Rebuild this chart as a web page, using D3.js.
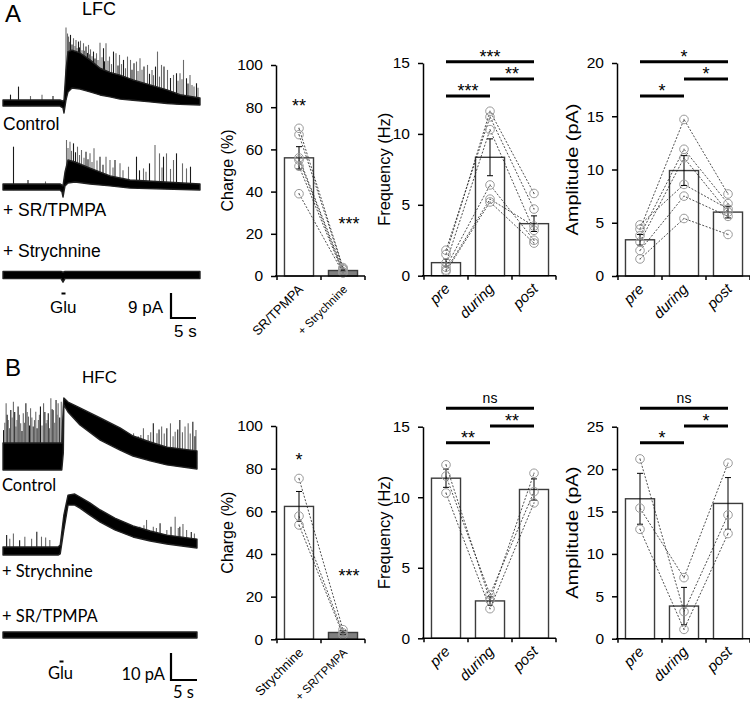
<!DOCTYPE html>
<html><head><meta charset="utf-8">
<script src="https://cdn.jsdelivr.net/npm/d3@7"></script>
<style>
body{margin:0;background:#fff}
svg{display:block}
text{font-family:"Liberation Sans",Arial,sans-serif;fill:#000}
</style>
</head><body>
<svg id="c" width="750" height="709"></svg>
<script>
// ================= DATA =================
// --- Panel A traces (time in s, current in pA relative to baseline) ---
const a1EnvT  = [0, 11.4, 12.0, 12.2, 12.6, 13.0, 13.8, 15.4, 17.4, 19.4, 21.4, 23.4, 26.0, 29.4, 32.8, 35.4, 39.4];
const a1EnvLo = [-1.1, -1.1, -1.8, -3.6, 1.1, 4.0, 5.4, 5.0, 4.0, 2.9, 2.2, 1.4, 1.0, 0.4, -0.2, -0.5, -0.7];
const a1EnvHi = [1.1, 1.1, 0.7, 1.1, 11.9, 18.5, 19.0, 18.0, 15.5, 12.5, 11.0, 10.0, 8.3, 6.5, 4.7, 3.0, 1.8];
const a1SpikeT = [3.1, 12.6, 13.1, 13.5, 14.1, 14.6, 15.1, 15.5, 16.1, 16.6, 17.1, 17.5, 18.1, 18.7, 19.4, 20.1, 20.6, 21.3, 22.1, 22.6, 23.3, 24.1, 24.9, 25.5, 26.2, 26.7, 27.4, 28.2, 28.9, 29.8, 30.5, 30.9, 31.7, 32.2, 32.9, 34.1, 34.7, 35.4, 36.1, 36.7, 37.4, 38.2, 38.7,
                  12.9, 13.3, 13.8, 14.4, 14.8, 15.3, 15.8, 16.3, 16.9, 17.3, 17.8, 18.4, 19.0, 19.8, 20.3, 21.0, 21.7, 23.0, 23.7, 24.5, 25.8, 27.0, 27.8, 29.3, 30.1, 31.3, 33.5, 35.0, 35.8, 37.0, 37.8, 39.0,
                  1.5, 5.5, 7.8, 10.0];
const a1SpikeAmp = [5.9, 27.2, 23.9, 24.5, 23.3, 22.7, 22.1, 22.4, 21.5, 20.3, 20.9, 19.3, 18.5, 17.9, 21.7, 19.7, 21.5, 16.7, 18.5, 17.9, 17.3, 15.5, 16.7, 15.5, 14.3, 14.9, 16.1, 13.1, 13.7, 11.9, 13.1, 18.5, 13.7, 13.1, 11.9, 10.1, 10.7, 10.7, 15.5, 8.9, 10.1, 5.9, 7.1,
                    25.0, 22.0, 21.0, 20.5, 19.8, 20.0, 19.0, 18.8, 18.0, 17.5, 16.8, 16.0, 15.5, 16.5, 15.0, 15.2, 14.0, 13.5, 14.0, 12.5, 12.0, 11.5, 12.0, 10.5, 10.0, 9.5, 9.0, 8.0, 8.5, 7.0, 6.5, 5.5,
                    3.0, 2.5, 3.0, 2.5];

const a2EnvT  = [0, 11.4, 11.8, 12.0, 12.4, 13.0, 14.4, 17.4, 21.4, 25.4, 39.4];
const a2EnvLo = [-1.1, -1.1, -1.8, -3.6, 0.4, 1.4, 1.8, 1.1, 0.4, -0.4, -1.1];
const a2EnvHi = [1.1, 1.1, 0.7, 0.4, 5.4, 9.7, 9.0, 6.8, 4.0, 2.5, 1.1];
const a2SpikeT = [2.1, 12.7, 13.4, 14.1, 14.9, 15.7, 16.6, 17.4, 18.2, 19.4, 20.6, 21.4, 22.4, 23.4, 25.1, 26.7, 28.1, 28.6, 29.3, 30.4, 31.3, 32.1, 32.7, 34.1, 34.7, 35.9, 36.7, 37.5,
                  13.0, 13.7, 14.5, 15.3, 16.2, 17.0, 17.8, 18.8, 20.0, 22.0, 24.0, 27.3, 31.8, 33.5, 5.0, 8.5];
const a2SpikeAmp = [14.5, 16.9, 16.3, 15.7, 14.5, 13.3, 12.7, 12.1, 13.9, 10.9, 10.9, 9.7, 9.7, 8.5, 7.3, 10.9, 6.7, 5.5, 8.5, 15.1, 12.1, 10.9, 12.1, 9.7, 12.1, 8.5, 6.7, 7.3,
                    14.0, 13.0, 12.5, 11.5, 10.5, 10.0, 9.0, 9.5, 8.0, 7.0, 6.0, 6.0, 7.0, 6.5, 2.5, 2.0];

const a3EnvT  = [0, 11.6, 12.0, 12.4, 39.4];
const a3EnvLo = [-1.3, -1.3, -2.6, -1.3, -1.3];
const a3EnvHi = [1.3, 1.3, 1.0, 1.3, 1.3];
const a3SpikeT = [];
const a3SpikeAmp = [];

// --- Panel B traces ---
const b1EnvT  = [0, 11.3, 11.6, 11.7, 12.5, 14.8, 18.7, 22.5, 25.0, 28.3, 31.5, 37.3];
const b1EnvLo = [-1.5, -1.5, 5.0, 22.6, 20.0, 15.2, 9.6, 5.9, 3.7, 1.9, 0.4, -1.1];
const b1EnvHi = [8.5, 8.5, 22.0, 25.2, 23.7, 21.5, 17.8, 14.1, 11.1, 8.9, 7.0, 5.6];
const b1SpikeT = [0.1, 0.6, 1.0, 1.5, 2.0, 2.5, 2.9, 3.4, 3.9, 4.4, 4.9, 5.3, 5.8, 6.3, 6.8, 7.2, 7.8, 8.3, 8.7, 9.2, 9.7, 10.2, 10.6, 11.2,
                  22.5, 23.8, 25.1, 26.0, 27.0, 27.9, 28.9, 29.6, 30.5, 31.5, 32.2, 33.1, 34.0, 35.0, 35.6, 36.5, 37.1,
                  0.35, 0.8, 1.25, 1.75, 2.25, 2.7, 3.15, 3.65, 4.15, 4.65, 5.1, 5.55, 6.05, 6.55, 7.0, 7.5, 8.05, 8.5, 8.95, 9.45, 9.95, 10.4, 10.9,
                  20.5, 21.5, 24.4, 26.5, 28.4, 30.0, 31.0, 32.7, 33.6, 34.5, 36.0, 36.9];
const b1SpikeAmp = [13.3, 23.2, 17.0, 20.7, 23.8, 14.6, 22.0, 15.8, 19.5, 23.2, 18.3, 21.4, 14.6, 20.1, 17.0, 22.0, 23.2, 15.8, 19.5, 25.1, 20.7, 24.4, 23.2, 23.8,
                    12.1, 10.9, 12.1, 10.9, 14.0, 11.5, 15.8, 12.1, 14.6, 14.0, 15.8, 12.7, 17.0, 14.6, 15.8, 16.4, 13.3,
                    16, 19, 14, 18, 20, 17, 19, 13, 16, 20, 15, 18, 17, 14, 19, 15, 20, 17, 14, 21, 16, 19, 18,
                    11.5, 11.0, 9.5, 11.5, 12.5, 13.5, 12.0, 11.0, 13.5, 12.5, 12.0, 11.0];

const b2EnvT  = [0, 10.6, 11.0, 11.7, 12.5, 13.8, 14.8, 16.7, 18.7, 21.5, 25.0, 28.3, 31.5, 37.3];
const b2EnvLo = [-1.5, -1.5, -1.1, 7.8, 17.0, 17.0, 15.9, 13.3, 10.7, 7.8, 5.2, 3.7, 2.6, 1.1];
const b2EnvHi = [1.5, 1.5, 2.2, 13.3, 20.7, 21.1, 20.0, 17.8, 15.2, 12.2, 9.3, 7.4, 5.9, 4.4];
const b2SpikeT = [0.7, 2.0, 4.2, 6.5, 7.4, 9.0, 26.3, 27.6, 28.9, 30.2, 31.5, 33.1, 34.0, 35.3,
                  1.3, 3.2, 5.5, 8.2, 25.5, 27.1, 29.5, 32.3, 33.7, 34.6, 36.2, 36.8];
const b2SpikeAmp = [5.9, 6.5, 5.3, 7.1, 5.3, 4.1, 9.0, 11.5, 9.0, 10.3, 7.8, 12.7, 9.0, 7.8,
                    4.5, 4.0, 4.5, 5.0, 8.0, 9.5, 8.5, 9.0, 8.5, 10.0, 7.0, 6.5];

const b3EnvT  = [0, 37.3];
const b3EnvLo = [-1.1, -1.1];
const b3EnvHi = [1.1, 1.1];
const b3SpikeT = [];
const b3SpikeAmp = [];

// --- Bar charts ---
const periods = ["pre", "during", "post"];

const chargeCatsA = ["SR/TPMPA", "+ Strychnine"];
const chargeMeanA = [56.0, 2.6];
const chargeSemA  = [5.3, 0.5];
const chargeCellsA = [[70, 4.0], [67, 3.5], [56, 3.0], [55, 2.0], [52, 1.5], [39, 1.5]];
const chargeSigA = ["**", "***"];

const freqMeanA = [0.92, 8.35, 3.67];
const freqSemA  = [0.25, 1.3, 0.55];
const freqCellsA = [[1.8, 11.2, 4.7], [1.5, 11.6, 5.8], [0.9, 10.3, 3.2], [0.6, 6.4, 2.5], [0.4, 5.4, 3.5], [0.3, 5.2, 2.3]];
const freqSigA = ["***", "**", "***"]; // pre-during, during-post, pre-post

const ampMeanA = [3.4, 9.9, 6.0];
const ampSemA  = [0.5, 1.4, 0.55];
const ampCellsA = [[4.8, 8.6, 6.3], [4.4, 14.7, 7.7], [3.8, 11.9, 6.8], [3.2, 11.1, 6.0], [2.4, 7.5, 5.6], [1.6, 5.4, 3.9]];
const ampSigA = ["*", "*", "*"];

const chargeCatsB = ["Strychnine", "+ SR/TPMPA"];
const chargeMeanB = [62.3, 3.2];
const chargeSemB  = [7.0, 0.8];
const chargeCellsB = [[75.4, 4.5], [57.8, 3.0], [53.6, 2.0]];
const chargeSigB = ["*", "***"];

const freqMeanB = [11.35, 2.65, 10.55];
const freqSemB  = [0.65, 0.3, 0.75];
const freqCellsB = [[12.3, 2.7, 11.7], [11.5, 3.1, 10.4], [10.3, 2.1, 9.6]];
const freqSigB = ["**", "**", "ns"];

const ampMeanB = [16.5, 3.85, 15.95];
const ampSemB  = [3.0, 2.2, 3.05];
const ampCellsB = [[21.2, 3.2, 14.6], [15.4, 7.2, 20.7], [12.9, 1.1, 12.4]];
const ampSigB = ["*", "*", "ns"];

const chargeTicks = [0, 20, 40, 60, 80, 100];
const freqTicks = [0, 5, 10, 15];
const ampTicksA = [0, 5, 10, 15, 20];
const ampTicksB = [0, 5, 10, 15, 20, 25];

// ================= DRAWING =================
const svg = d3.select("#c");
const CAL = '"Lato","Open Sans",sans-serif';

function drawTrace(cfg, y0, envT, envLo, envHi, spT, spA) {
  const x = d3.scaleLinear().domain(cfg.tDomain).range(cfg.xRange);
  const y = d3.scaleLinear().domain([0, 10]).range([y0, y0 - 10 * cfg.pxPerPA]);
  const loAt = d3.scaleLinear().domain(envT).range(envLo);
  const env = envT.map((t, i) => ({t, lo: envLo[i], hi: envHi[i]}));
  const g = svg.append("g");
  const sp = spT.map((t, i) => ({t, a: spA[i], i}));
  g.selectAll("line.sp").data(sp).join("line")
    .attr("x1", d => x(d.t)).attr("x2", d => x(d.t))
    .attr("y1", d => y(loAt(d.t))).attr("y2", d => y(d.a))
    .attr("stroke", d => d.i % 3 === 0 ? "#1a1a1a" : "#6a6a6a").attr("stroke-width", 1.1);
  g.append("path").datum(env)
    .attr("d", d3.area().x(d => x(d.t)).y0(d => y(d.lo)).y1(d => y(d.hi)))
    .attr("fill", "#000").attr("stroke", "#222").attr("stroke-width", 1.4).attr("stroke-linejoin", "round");
  return {x, y};
}

// Panel A traces
const trA = {tDomain: [0, 39.4], xRange: [3, 200], pxPerPA: 2.78};
const sA = drawTrace(trA, 103, a1EnvT, a1EnvLo, a1EnvHi, a1SpikeT, a1SpikeAmp);
drawTrace(trA, 187, a2EnvT, a2EnvLo, a2EnvHi, a2SpikeT, a2SpikeAmp);
drawTrace(trA, 275, a3EnvT, a3EnvLo, a3EnvHi, a3SpikeT, a3SpikeAmp);

// Panel B traces
const trB = {tDomain: [0, 37.3], xRange: [3, 197], pxPerPA: 2.7};
const sB = drawTrace(trB, 466, b1EnvT, b1EnvLo, b1EnvHi, b1SpikeT, b1SpikeAmp);
drawTrace(trB, 551, b2EnvT, b2EnvLo, b2EnvHi, b2SpikeT, b2SpikeAmp);
drawTrace(trB, 635, b3EnvT, b3EnvLo, b3EnvHi, b3SpikeT, b3SpikeAmp);

// scale bars
function scaleBar(s, x0, yb, pA, sec) {
  const hLen = s.x(sec) - s.x(0);
  const vLen = s.y(0) - s.y(pA);
  svg.append("path").attr("d", `M${x0},${yb - vLen}V${yb}H${x0 + hLen}`)
    .attr("fill", "none").attr("stroke", "#000").attr("stroke-width", 2.2);
}
scaleBar(sA, 171, 318, 9, 5);
scaleBar(sB, 171, 680, 10, 5);

function txt(x, y, s, size, opts = {}) {
  const t = svg.append("text").attr("x", x).attr("y", y).text(s).attr("font-size", size);
  if (opts.anchor) t.attr("text-anchor", opts.anchor);
  if (opts.family) t.style("font-family", opts.family);
  if (opts.weight) t.attr("font-weight", opts.weight);
  return t;
}
// Panel A labels
txt(5, 22, "A", 24);
txt(82, 15, "LFC", 18);
txt(3, 130, "Control", 17.5);
txt(3, 216, "+ SR/TPMPA", 17.5);
txt(3, 257, "+ Strychnine", 17.5);
txt(50, 313, "Glu", 17);
svg.append("rect").attr("x", 61.5).attr("y", 292.5).attr("width", 4).attr("height", 2).attr("fill", "#000");
txt(163, 313, "9 pA", 17, {anchor: "end"});
txt(174, 337, "5 s", 17);

// Panel B labels
txt(5, 376, "B", 24);
txt(82, 383, "HFC", 17);
txt(2, 491, "Control", 16.5, {family: CAL});
txt(2, 577, "+ Strychnine", 16.5, {family: CAL});
txt(2, 622, "+ SR/TPMPA", 16.5, {family: CAL});
txt(48, 679, "Glu", 16.5, {family: CAL});
svg.append("rect").attr("x", 59.5).attr("y", 660.5).attr("width", 4).attr("height", 2).attr("fill", "#000");
txt(165, 680, "10 pA", 16.5, {anchor: "end", family: CAL});
txt(173, 698, "5 s", 16.5, {family: CAL});

// ---------- bar panels ----------
function barPanel(o) {
  const n = o.cats.length;
  const r0 = o.axisX + 1;
  const x = d3.scaleBand().domain(o.cats).range([r0, r0 + 44 * n]).paddingInner(0.34).paddingOuter(0.17);
  const y = d3.scaleLinear().domain([0, o.vmax]).range([o.y0, o.yTop]);
  const cx = c => x(c) + x.bandwidth() / 2;
  const g = svg.append("g");

  // bars
  g.selectAll("rect.bar").data(o.cats).join("rect")
    .attr("x", d => x(d)).attr("width", x.bandwidth())
    .attr("y", (d, i) => y(o.mean[i])).attr("height", (d, i) => o.y0 - y(o.mean[i]))
    .attr("fill", (d, i) => o.fills[i]).attr("stroke", "#3c3c3c").attr("stroke-width", 1.4);

  // error bars
  o.cats.forEach((c, i) => {
    const xc = cx(c), t = y(o.mean[i] + o.sem[i]), b = y(o.mean[i] - o.sem[i]);
    g.append("path").attr("d", `M${xc},${t}V${b}M${xc - 3},${t}H${xc + 3}M${xc - 3},${b}H${xc + 3}`)
      .attr("stroke", "#000").attr("stroke-width", 1).attr("fill", "none");
  });

  // individual cells
  const line = d3.line().x((v, i) => cx(o.cats[i])).y(v => y(v));
  g.selectAll("path.cell").data(o.cells).join("path")
    .attr("d", line).attr("fill", "none").attr("stroke", "#222")
    .attr("stroke-width", 0.8).attr("stroke-dasharray", "2,1.6");
  const pts = [];
  o.cells.forEach(cell => cell.forEach((v, i) => pts.push({x: cx(o.cats[i]), y: y(v)})));
  g.selectAll("circle.pt").data(pts).join("circle")
    .attr("cx", d => d.x).attr("cy", d => d.y).attr("r", 4.3)
    .attr("fill", "none").attr("stroke", "#9a9a9a").attr("stroke-width", 1);
  g.selectAll("circle.dot").data(pts).join("circle")
    .attr("cx", d => d.x).attr("cy", d => d.y).attr("r", 0.7).attr("fill", "#777");

  // y axis
  const ax = g.append("g").attr("transform", `translate(${o.axisX},0)`)
    .call(d3.axisLeft(y).tickValues(o.ticks).tickSize(5).tickSizeOuter(0).tickPadding(8));
  ax.selectAll("path.domain").attr("stroke", "#000").attr("stroke-width", 1.5);
  ax.selectAll(".tick line").attr("stroke", "#000").attr("stroke-width", 1.5);
  ax.selectAll(".tick text").attr("font-size", 15.5).style("font-family", '"Liberation Sans",Arial,sans-serif').attr("fill", "#000");

  // x axis
  const xEnd = r0 + 44 * n;
  let d = `M${o.axisX - 1},${o.y0}H${xEnd}`;
  for (let i = 0; i <= n; i++) { const bx = r0 + i * x.step(); d += `M${bx},${o.y0}v4`; }
  g.append("path").attr("d", d).attr("stroke", "#000").attr("stroke-width", 1.5).attr("fill", "none");

  // category labels
  o.cats.forEach((c, i) => {
    g.append("text").attr("transform", `translate(${cx(c) + 5},${o.y0 + 14}) rotate(-45)`)
      .attr("text-anchor", "end").attr("font-size", o.catSize[i])
      .attr("font-style", o.italic ? "italic" : "normal").text(c);
  });

  // title
  g.append("text").attr("transform", `translate(${o.axisX - o.titleDx},${(o.y0 + o.yTop) / 2}) rotate(-90)`)
    .attr("text-anchor", "middle").attr("font-size", 16.5)
    .attr("textLength", o.titleLen).attr("lengthAdjust", "spacingAndGlyphs").text(o.title);

  // significance
  if (n === 2) {
    o.sig.forEach((s, i) => {
      g.append("text").attr("x", cx(o.cats[i]) + (i === 1 ? 6 : 0)).attr("y", o.sigY[i])
        .attr("text-anchor", "middle").attr("font-size", 18).text(s);
    });
  } else {
    const pairs = [[0, 1], [1, 2], [0, 2]];
    pairs.forEach((p, k) => {
      const ly = o.yTop + o.brY[k];
      g.append("line").attr("x1", cx(o.cats[p[0]])).attr("x2", cx(o.cats[p[1]]))
        .attr("y1", ly).attr("y2", ly).attr("stroke", "#000").attr("stroke-width", 3);
      const mx = (cx(o.cats[p[0]]) + cx(o.cats[p[1]])) / 2;
      const isNs = o.sig[k] === "ns";
      g.append("text").attr("x", mx).attr("y", isNs ? ly - 5 : ly + 1)
        .attr("text-anchor", "middle").attr("font-size", isNs ? 14 : 18).text(o.sig[k]);
    });
  }
}

// Row A
barPanel({axisX: 276, y0: 276, yTop: 65, vmax: 100, ticks: chargeTicks, cats: chargeCatsA,
  mean: chargeMeanA, sem: chargeSemA, cells: chargeCellsA, fills: ["#fff", "#7f7f7f"],
  catSize: [13, 11.5], italic: false, title: "Charge (%)", titleDx: 43, titleLen: 82,
  sig: chargeSigA, sigY: [112, 230]});
barPanel({axisX: 423, y0: 275.7, yTop: 63, vmax: 15, ticks: freqTicks, cats: periods,
  mean: freqMeanA, sem: freqSemA, cells: freqCellsA, fills: ["#fff", "#fff", "#fff"],
  catSize: [15, 15, 15], italic: true, title: "Frequency (Hz)", titleDx: 33, titleLen: 113,
  sig: freqSigA, brY: [33, 16, -1.3]});
barPanel({axisX: 617, y0: 276, yTop: 63, vmax: 20, ticks: ampTicksA, cats: periods,
  mean: ampMeanA, sem: ampSemA, cells: ampCellsA, fills: ["#fff", "#fff", "#fff"],
  catSize: [15, 15, 15], italic: true, title: "Amplitude (pA)", titleDx: 39, titleLen: 132,
  sig: ampSigA, brY: [33, 16, -1.3]});

// Row B
barPanel({axisX: 276, y0: 639.3, yTop: 426, vmax: 100, ticks: chargeTicks, cats: chargeCatsB,
  mean: chargeMeanB, sem: chargeSemB, cells: chargeCellsB, fills: ["#fff", "#7f7f7f"],
  catSize: [13, 11.5], italic: false, title: "Charge (%)", titleDx: 43, titleLen: 82,
  sig: chargeSigB, sigY: [466, 582]});
barPanel({axisX: 423, y0: 638.3, yTop: 426.7, vmax: 15, ticks: freqTicks, cats: periods,
  mean: freqMeanB, sem: freqSemB, cells: freqCellsB, fills: ["#fff", "#fff", "#fff"],
  catSize: [15, 15, 15], italic: true, title: "Frequency (Hz)", titleDx: 33, titleLen: 113,
  sig: freqSigB, brY: [16, -0.7, -18.4]});
barPanel({axisX: 617, y0: 638.7, yTop: 426.7, vmax: 25, ticks: ampTicksB, cats: periods,
  mean: ampMeanB, sem: ampSemB, cells: ampCellsB, fills: ["#fff", "#fff", "#fff"],
  catSize: [15, 15, 15], italic: true, title: "Amplitude (pA)", titleDx: 39, titleLen: 132,
  sig: ampSigB, brY: [16, -0.7, -18.4]});
</script>
</body></html>
